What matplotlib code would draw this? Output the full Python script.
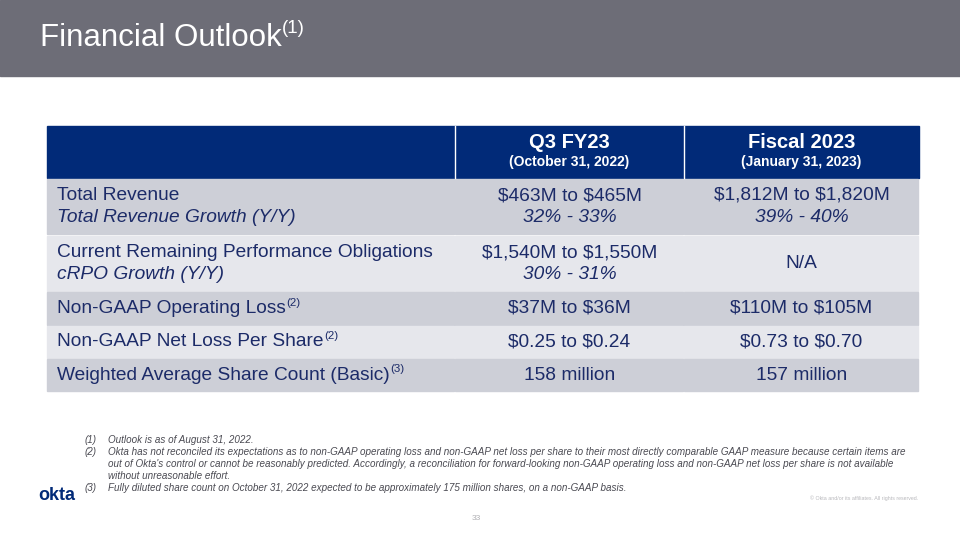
import matplotlib.pyplot as plt
from matplotlib.patches import Rectangle

plt.rcParams['font.family'] = ['Liberation Sans', 'DejaVu Sans']
plt.rcParams['text.parse_math'] = False

# table content
col_titles = ['Q3 FY23', 'Fiscal 2023']
col_dates = ['(October 31, 2022)', '(January 31, 2023)']
row_labels = ['Total Revenue',
              'Current Remaining Performance Obligations',
              'Non-GAAP Operating Loss',
              'Non-GAAP Net Loss Per Share',
              'Weighted Average Share Count (Basic)']
row_sublabels = ['Total Revenue Growth (Y/Y)', 'cRPO Growth (Y/Y)', None, None, None]
row_notes = [None, None, '(2)', '(2)', '(3)']
q3_values = ['$463M to $465M', '$1,540M to $1,550M', '$37M to $36M', '$0.25 to $0.24', '158 million']
q3_growth = ['32% - 33%', '30% - 31%', None, None, None]
fy_values = ['$1,812M to $1,820M', 'N/A', '$110M to $105M', '$0.73 to $0.70', '157 million']
fy_growth = ['39% - 40%', None, None, None, None]

footnotes = [
    ('(1)', 'Outlook is as of August 31, 2022.'),
    ('(2)', 'Okta has not reconciled its expectations as to non-GAAP operating loss and non-GAAP net loss per share to their most directly comparable GAAP measure because certain items are\n'
            "out of Okta's control or cannot be reasonably predicted. Accordingly, a reconciliation for forward-looking non-GAAP operating loss and non-GAAP net loss per share is not available\n"
            'without unreasonable effort.'),
    ('(3)', 'Fully diluted share count on October 31, 2022 expected to be approximately 175 million shares, on a non-GAAP basis.'),
]

navy = '#012a78'
text_navy = '#1c2b68'
dark_row = '#cdcfd7'
light_row = '#e6e7ec'

fig = plt.figure(figsize=(9.6, 5.4), dpi=100)
ax = fig.add_axes([0, 0, 1, 1])
ax.set_xlim(0, 960)
ax.set_ylim(540, 0)
ax.axis('off')
fig.patch.set_facecolor('white')
renderer = fig.canvas.get_renderer()


def sup_text(x, y, s, note, size, color, ha='left'):
    t = ax.text(x, y, s, fontsize=size, color=color, va='center', ha=ha)
    if note:
        bb = t.get_window_extent(renderer).transformed(ax.transData.inverted())
        ax.text(bb.x1 + 0.5, y - size * 0.42, note, fontsize=size * 0.6,
                color=color, va='center', ha='left')
    return t


# header band
ax.add_patch(Rectangle((0, 0), 960, 76, color='#6d6d77', zorder=0))
sup_text(40, 38, 'Financial Outlook', '(1)', 22.5, 'white')

# table geometry
x_edges = [47, 455, 684, 919]
row_tops = [179, 236, 292, 326, 359]
row_bots = [234, 291, 325, 358, 391]
head_top, head_bot = 126, 178
body_size = 13.8

ax.add_patch(Rectangle((x_edges[0], head_top), x_edges[-1] - x_edges[0],
                       head_bot - head_top, color=navy, zorder=1))
for xe in x_edges[1:-1]:
    ax.plot([xe, xe], [head_top, head_bot], color='white', lw=1, zorder=2)
for j, (title, date) in enumerate(zip(col_titles, col_dates)):
    cx = (x_edges[j + 1] + x_edges[j + 2]) / 2
    ax.text(cx, 143, title, fontsize=14.5, fontweight='bold', color='white', ha='center', va='center')
    ax.text(cx, 162, date, fontsize=10, fontweight='bold', color='white', ha='center', va='center')

c2 = (x_edges[1] + x_edges[2]) / 2
c3 = (x_edges[2] + x_edges[3]) / 2
for i in range(len(row_labels)):
    top, bot = row_tops[i], row_bots[i]
    fc = dark_row if i % 2 == 0 else light_row
    for j in range(3):
        ax.add_patch(Rectangle((x_edges[j], top), x_edges[j + 1] - x_edges[j] - 1,
                               bot - top, color=fc, zorder=1))
    mid = (top + bot) / 2
    if row_sublabels[i]:
        sup_text(57, mid - 11, row_labels[i], row_notes[i], body_size, text_navy)
        ax.text(57, mid + 11, row_sublabels[i], fontsize=body_size, style='italic',
                color=text_navy, va='center')
    else:
        sup_text(57, mid, row_labels[i], row_notes[i], body_size, text_navy)
    for cx, val, gr in [(c2, q3_values[i], q3_growth[i]), (c3, fy_values[i], fy_growth[i])]:
        if gr:
            ax.text(cx, mid - 11, val, fontsize=body_size, color=text_navy, ha='center', va='center')
            ax.text(cx, mid + 11, gr, fontsize=body_size, style='italic', color=text_navy,
                    ha='center', va='center')
        else:
            ax.text(cx, mid, val, fontsize=body_size, color=text_navy, ha='center', va='center')

# footnotes
fy = 440
for num, txt in footnotes:
    ax.text(85, fy, num, fontsize=7.1, style='italic', color='#4a4a52', va='center')
    lines = txt.split('\n')
    for k, ln in enumerate(lines):
        ax.text(108, fy + 12 * k, ln, fontsize=7.1, style='italic', color='#4a4a52', va='center')
    fy += 12 * len(lines)

# logo, copyright, page number
ax.text(38, 496, 'okta', fontsize=13, fontweight='bold', color=navy, va='center')
ax.text(918, 498, '\u00a9 Okta and/or its affiliates. All rights reserved.', fontsize=3.8,
        color='#b8b8bc', ha='right', va='center')
ax.text(476, 519, '33', fontsize=6, color='#b0b0b4', ha='center', va='center')

fig.savefig('out.png', dpi=100)
